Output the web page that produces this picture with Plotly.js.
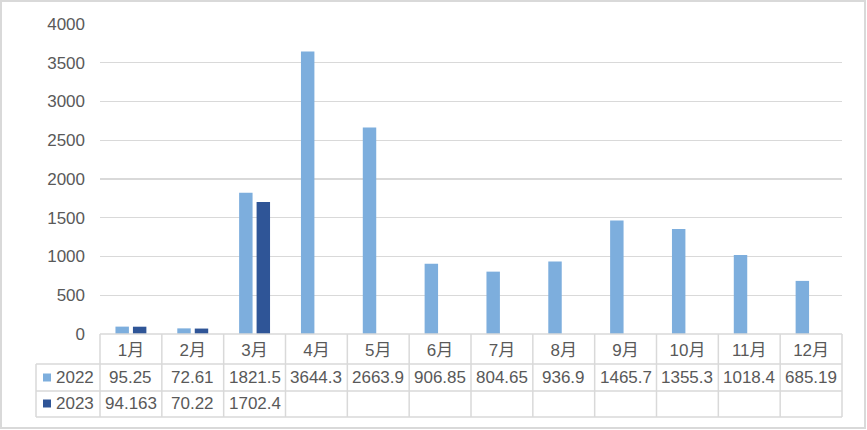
<!DOCTYPE html>
<html><head><meta charset="utf-8">
<script src="https://cdn.plot.ly/plotly-3.0.1.min.js"></script>
<style>
body{margin:0;background:#fff;}
#wrap{position:relative;width:867px;height:430px;overflow:hidden;}
#chart{position:absolute;left:0;top:0;width:867px;height:430px;}
#frame{position:absolute;left:0;top:0;width:866px;height:429px;box-sizing:border-box;border:2px solid #d9d9d9;pointer-events:none;}
</style>
</head><body>
<div id="wrap"><div id="chart"></div><div id="frame"></div></div>
<script>
const months = ['1月','2月','3月','4月','5月','6月','7月','8月','9月','10月','11月','12月'];
const seriesNames = ['2022','2023'];
const values2022 = [95.25, 72.61, 1821.5, 3644.3, 2663.9, 906.85, 804.65, 936.9, 1465.7, 1355.3, 1018.4, 685.19];
const values2023 = [94.163, 70.22, 1702.4, null, null, null, null, null, null, null, null, null];
const colors = ['#7DAEDD', '#2F5597'];
const yTicks = [0, 500, 1000, 1500, 2000, 2500, 3000, 3500, 4000];

const FONT = '"Liberation Sans", Arial, "Noto Sans CJK SC", sans-serif';
const TXT = '#595959';
const GRID = '#d9d9d9';
const FS = 17;

// layout geometry (pixels)
const W = 867, H = 430;
const mL = 100, mR = 25, mT = 24, mB = 96;
const plotW = W - mL - mR, plotH = H - mT - mB;
const py = px => -px / plotH;           // pixels below the x axis -> paper y
const pxX = px => px / plotW;           // pixels from left of plot -> paper x
const rowBottoms = [30, 57, 83];        // header, 2022, 2023 row bottoms
const rowCenters = [15, 43.5, 69.5];
const leftCol = -64;                    // left edge of label column

const allSeries = [values2022, values2023];

const traces = allSeries.map((vals, k) => ({
  type: 'bar',
  name: seriesNames[k],
  x: months,
  y: vals,
  marker: {color: colors[k]},
  hoverinfo: 'skip',
  showlegend: false
}));

const shapes = [];
const lineStyle = {color: GRID, width: 1.5};
// horizontal table lines
shapes.push({type: 'line', xref: 'paper', yref: 'paper', x0: 0, x1: 1, y0: 0, y1: 0, line: lineStyle});
rowBottoms.forEach(b => {
  shapes.push({type: 'line', xref: 'paper', yref: 'paper', x0: pxX(leftCol), x1: 1, y0: py(b), y1: py(b), line: lineStyle});
});
// vertical table lines
for (let i = 0; i <= months.length; i++) {
  shapes.push({type: 'line', xref: 'paper', yref: 'paper', x0: i / months.length, x1: i / months.length, y0: 0, y1: py(rowBottoms[2]), line: lineStyle});
}
shapes.push({type: 'line', xref: 'paper', yref: 'paper', x0: pxX(leftCol), x1: pxX(leftCol), y0: py(rowBottoms[0]), y1: py(rowBottoms[2]), line: lineStyle});

const annotations = [];
allSeries.forEach((vals, k) => {
  const yc = py(rowCenters[k + 1]);
  // legend key square
  shapes.push({type: 'rect', xref: 'paper', yref: 'paper',
    x0: pxX(-57), x1: pxX(-49), y0: yc + 4 / plotH, y1: yc - 4 / plotH,
    fillcolor: colors[k], line: {width: 0}});
  annotations.push({xref: 'paper', yref: 'paper', x: pxX(-25), y: yc, text: seriesNames[k],
    showarrow: false, xanchor: 'center', yanchor: 'middle', font: {family: FONT, size: FS, color: TXT}});
  vals.forEach((v, i) => {
    if (v === null) return;
    annotations.push({xref: 'x', yref: 'paper', x: months[i], y: yc, text: String(v),
      showarrow: false, xanchor: 'center', yanchor: 'middle', font: {family: FONT, size: FS, color: TXT}});
  });
});

const layout = {
  width: W, height: H,
  margin: {l: mL, r: mR, t: mT, b: mB, pad: 0},
  paper_bgcolor: '#fff', plot_bgcolor: '#fff',
  font: {family: FONT, size: FS, color: TXT},
  barmode: 'group',
  bargap: 0.435,
  bargroupgap: 0.23,
  xaxis: {
    type: 'category',
    showgrid: false, zeroline: false, showline: false,
    ticks: '', ticklabelstandoff: 4,
    tickfont: {family: FONT, size: FS, color: TXT}
  },
  yaxis: {
    range: [0, 4000],
    tickvals: yTicks,
    ticktext: yTicks.map(String),
    showgrid: true, gridcolor: GRID, gridwidth: 1.3,
    zeroline: false, showline: false,
    ticks: '', ticklabelstandoff: 14,
    tickfont: {family: FONT, size: FS, color: TXT}
  },
  shapes: shapes,
  annotations: annotations
};

Plotly.newPlot('chart', traces, layout, {displayModeBar: false, staticPlot: true});
</script>
</body></html>
